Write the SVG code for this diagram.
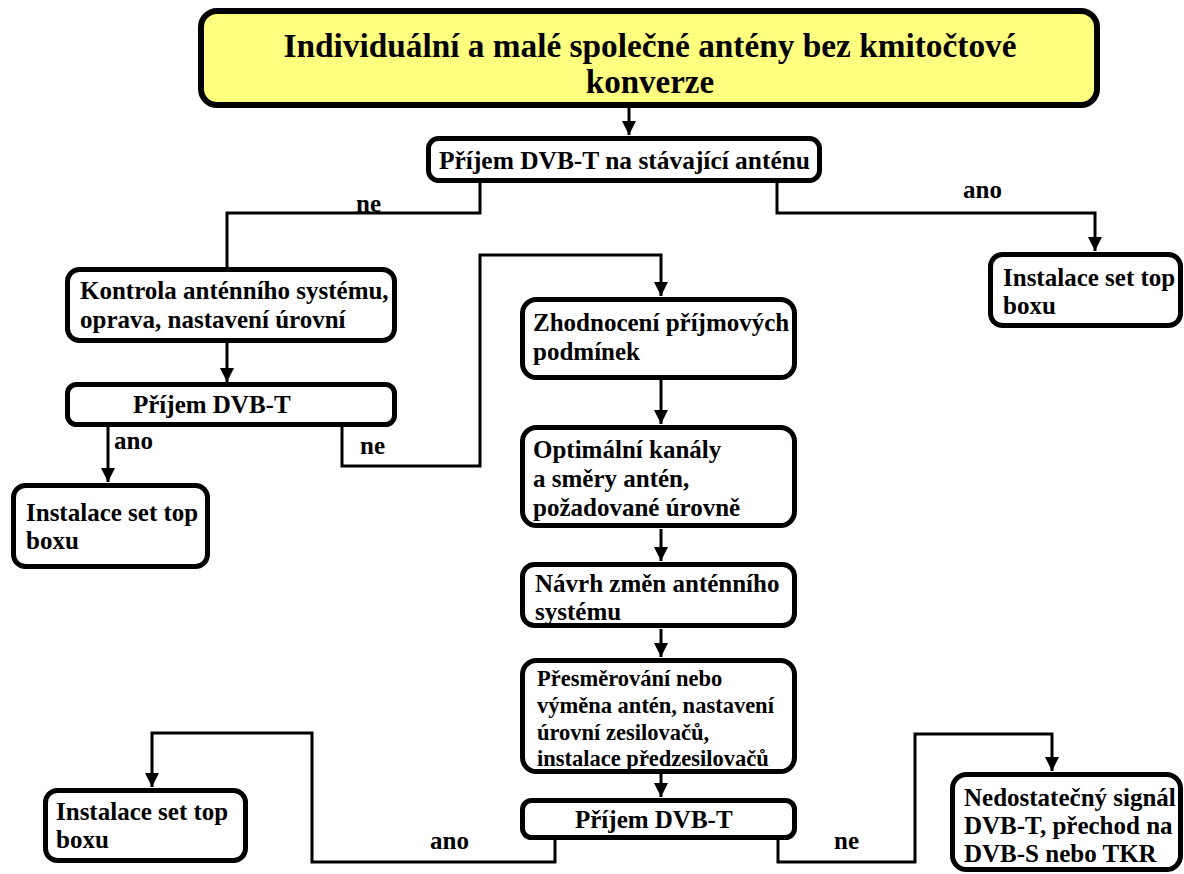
<svg xmlns="http://www.w3.org/2000/svg" width="1184" height="874" viewBox="0 0 1184 874">
<style>
.box{fill:#fff;stroke:#000;stroke-width:5}
.title{fill:#ffff80;stroke:#000;stroke-width:6}
.c{fill:none;stroke:#000;stroke-width:3}
.t{font-family:"Liberation Serif","Times New Roman",serif;font-weight:bold;font-size:25px;fill:#000}
.s{font-size:22.5px}
.tt{font-family:"Liberation Serif","Times New Roman",serif;font-weight:bold;font-size:33px;fill:#000}
</style>
<defs>
<marker id="ah" viewBox="0 0 14 14" refX="14" refY="7" markerWidth="14" markerHeight="14" markerUnits="userSpaceOnUse" orient="auto">
<path d="M0,0 L14,7 L0,14 Z" fill="#000"/>
</marker>
</defs>
<rect width="1184" height="874" fill="#fff"/>
<g id="connectors">
<path class="c" d="M629,108 V135" marker-end="url(#ah)"/>
<path class="c" d="M480,183 V213 H227 V268"/>
<path class="c" d="M777,183 V213 H1095 V251" marker-end="url(#ah)"/>
<path class="c" d="M227,343 V382" marker-end="url(#ah)"/>
<path class="c" d="M108,427 V482" marker-end="url(#ah)"/>
<path class="c" d="M342,427 V466 H480 V255 H661 V296" marker-end="url(#ah)"/>
<path class="c" d="M661,380 V424" marker-end="url(#ah)"/>
<path class="c" d="M661,529 V561" marker-end="url(#ah)"/>
<path class="c" d="M661,629 V657" marker-end="url(#ah)"/>
<path class="c" d="M661,774 V797" marker-end="url(#ah)"/>
<path class="c" d="M555,840 V862 H312 V733 H152 V787" marker-end="url(#ah)"/>
<path class="c" d="M778,840 V862 H915 V734 H1052 V771" marker-end="url(#ah)"/>
<text class="t" x="356" y="212">ne</text>
<text class="t" x="963" y="198">ano</text>
<text class="t" x="114" y="449">ano</text>
<text class="t" x="360" y="454">ne</text>
<text class="t" x="430" y="849">ano</text>
<text class="t" x="834" y="849">ne</text>
</g>
<g id="n_title">
<rect class="title" x="201" y="11" width="896" height="94" rx="16"/>
<text class="tt" x="650" y="57" text-anchor="middle" textLength="733" lengthAdjust="spacingAndGlyphs">Individuální a malé společné antény bez kmitočtové</text>
<text class="tt" x="650" y="93" text-anchor="middle">konverze</text>
</g>
<g id="n_decision1">
<rect class="box" x="428.5" y="138.5" width="391" height="42" rx="10"/>
<text class="t" x="439" y="169" textLength="371" lengthAdjust="spacingAndGlyphs">Příjem DVB-T na stávající anténu</text>
</g>
<g id="n_kontrola">
<rect class="box" x="67.5" y="269.5" width="327" height="71" rx="12"/>
<text class="t" x="80" y="299">Kontrola anténního systému,</text>
<text class="t" x="80" y="328">oprava, nastavení úrovní</text>
</g>
<g id="n_prijem2">
<rect class="box" x="67.5" y="384.5" width="327" height="40" rx="9"/>
<text class="t" x="133" y="413">Příjem DVB-T</text>
</g>
<g id="n_instalace1">
<rect class="box" x="13.5" y="485.5" width="194" height="81" rx="12"/>
<text class="t" x="26" y="521">Instalace set top</text>
<text class="t" x="26" y="549">boxu</text>
</g>
<g id="n_instalace_r">
<rect class="box" x="990.5" y="254.5" width="190" height="71" rx="12"/>
<text class="t" x="1003" y="286">Instalace set top</text>
<text class="t" x="1003" y="314">boxu</text>
</g>
<g id="n_zhodnoceni">
<rect class="box" x="522.5" y="299.5" width="272" height="78" rx="14"/>
<text class="t" x="533" y="331">Zhodnocení příjmových</text>
<text class="t" x="533" y="360">podmínek</text>
</g>
<g id="n_optimalni">
<rect class="box" x="522.5" y="427.5" width="272" height="98" rx="14"/>
<text class="t" x="533" y="458">Optimální kanály</text>
<text class="t" x="533" y="487">a směry antén,</text>
<text class="t" x="533" y="516">požadované úrovně</text>
</g>
<g id="n_navrh">
<rect class="box" x="522.5" y="564.5" width="272" height="61" rx="12"/>
<text class="t" x="535" y="592">Návrh změn anténního</text>
<text class="t" x="535" y="620">systému</text>
</g>
<g id="n_presmerovani">
<rect class="box" x="522.5" y="660.5" width="272" height="111" rx="14"/>
<text class="t s" x="537" y="686">Přesměrování nebo</text>
<text class="t s" x="537" y="713">výměna antén, nastavení</text>
<text class="t s" x="537" y="740">úrovní zesilovačů,</text>
<text class="t s" x="537" y="766">instalace předzesilovačů</text>
</g>
<g id="n_prijem3">
<rect class="box" x="522.5" y="800.5" width="272" height="37" rx="9"/>
<text class="t" x="575" y="828">Příjem DVB-T</text>
</g>
<g id="n_instalace2">
<rect class="box" x="45.5" y="790.5" width="200" height="70" rx="12"/>
<text class="t" x="56" y="820">Instalace set top</text>
<text class="t" x="56" y="848">boxu</text>
</g>
<g id="n_nedostatecny">
<rect class="box" x="952.5" y="774.5" width="228" height="95" rx="14"/>
<text class="t" x="964" y="806">Nedostatečný signál</text>
<text class="t" x="964" y="834">DVB-T, přechod na</text>
<text class="t" x="964" y="862">DVB-S nebo TKR</text>
</g>
</svg>
